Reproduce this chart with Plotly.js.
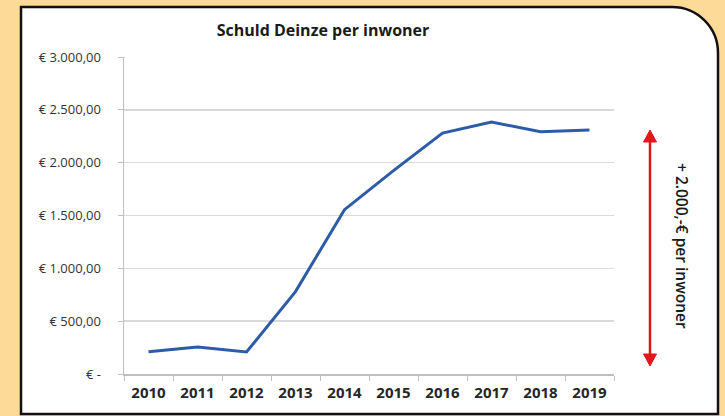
<!DOCTYPE html>
<html>
<head>
<meta charset="utf-8">
<script src="https://cdn.plot.ly/plotly-3.0.1.min.js"></script>
<style>html,body{margin:0;padding:0;background:#FDDA98;}#chart{width:725px;height:416px;}</style>
</head>
<body>
<div id="chart"></div>
<script>
// Data
const years = ['2010','2011','2012','2013','2014','2015','2016','2017','2018','2019'];
const schuldPerInwoner = [210, 255, 208, 780, 1555, 1925, 2280, 2385, 2292, 2310];
const yTickVals = [0, 500, 1000, 1500, 2000, 2500, 3000];
const yTickText = ['€ -', '€ 500,00', '€ 1.000,00', '€ 1.500,00', '€ 2.000,00', '€ 2.500,00', '€ 3.000,00'];
const chartTitle = 'Schuld Deinze per inwoner';
const sideNote = '+ 2.000,-€ per inwoner';

const W = 725, H = 416;
const px = x => x / W;
const py = y => 1 - y / H;

// panel with rounded top-right corner
const L = 21, T = 7, R = 718, B = 414, rad = 46, k = 0.5523;
const panelPath =
  `M ${px(L)},${py(B)} L ${px(L)},${py(T)} L ${px(R - rad)},${py(T)} ` +
  `C ${px(R - rad + rad * k)},${py(T)} ${px(R)},${py(T + rad - rad * k)} ${px(R)},${py(T + rad)} ` +
  `L ${px(R)},${py(B)} Z`;

// red double arrow
const ax = 650, aTop = 130, aBot = 366, hw = 6.5, hl = 12;
const red = '#E3161B';
const shapes = [
  {type: 'path', xref: 'paper', yref: 'paper', path: panelPath,
   fillcolor: '#FFFFFF', line: {color: '#111111', width: 2.5}, layer: 'below'},
  {type: 'line', xref: 'paper', yref: 'paper', x0: px(ax), x1: px(ax), y0: py(aTop + hl - 2), y1: py(aBot - hl + 2),
   line: {color: red, width: 2.5}},
  {type: 'path', xref: 'paper', yref: 'paper',
   path: `M ${px(ax)},${py(aTop)} L ${px(ax - hw)},${py(aTop + hl)} L ${px(ax + hw)},${py(aTop + hl)} Z`,
   fillcolor: red, line: {color: red, width: 1}},
  {type: 'path', xref: 'paper', yref: 'paper',
   path: `M ${px(ax)},${py(aBot)} L ${px(ax - hw)},${py(aBot - hl)} L ${px(ax + hw)},${py(aBot - hl)} Z`,
   fillcolor: red, line: {color: red, width: 1}}
];

const data = [{
  type: 'scatter', mode: 'lines', x: years, y: schuldPerInwoner,
  line: {color: '#2C5CA8', width: 3}, hoverinfo: 'skip'
}];

const layout = {
  width: W, height: H,
  margin: {l: 0, r: 0, t: 0, b: 0},
  paper_bgcolor: '#FDDA98',
  plot_bgcolor: 'rgba(0,0,0,0)',
  showlegend: false,
  font: {family: 'Open Sans, Liberation Sans, sans-serif', color: '#404040'},
  title: {text: '<b>' + chartTitle + '</b>', x: px(323), xanchor: 'center', y: py(30), yanchor: 'middle',
          font: {size: 16, color: '#1a1a1a', family: 'Open Sans, sans-serif'}},
  xaxis: {
    domain: [px(124), px(614)], type: 'category', range: [-0.5, 9.5],
    showgrid: false, zeroline: false, showline: true, linecolor: '#BFBFBF', linewidth: 1.5,
    ticks: 'outside', tickson: 'boundaries', ticklen: 5, tickcolor: '#BFBFBF',
    tickfont: {size: 15, color: '#262626', family: 'Open Sans, sans-serif', weight: 'bold'},
    ticklabelstandoff: 4
  },
  yaxis: {
    domain: [py(374), py(57)], range: [0, 3000],
    tickvals: yTickVals, ticktext: yTickText,
    showgrid: true, gridcolor: '#D9D9D9', gridwidth: 1.5, zeroline: false,
    showline: true, linecolor: '#BFBFBF', linewidth: 1.5,
    ticks: 'outside', ticklen: 5, tickcolor: '#BFBFBF',
    tickfont: {size: 13, color: '#333333', family: 'Open Sans, sans-serif'},
    ticklabelstandoff: 14
  },
  shapes: shapes,
  annotations: [{
    xref: 'paper', yref: 'paper', x: px(682), y: py(246), text: sideNote, showarrow: false,
    textangle: 90, font: {size: 15.5, color: '#1a1a1a', family: 'Open Sans, sans-serif', weight: 600},
    xanchor: 'center', yanchor: 'middle'
  }]
};

Plotly.newPlot('chart', data, layout, {displayModeBar: false, staticPlot: true});
</script>
</body>
</html>
